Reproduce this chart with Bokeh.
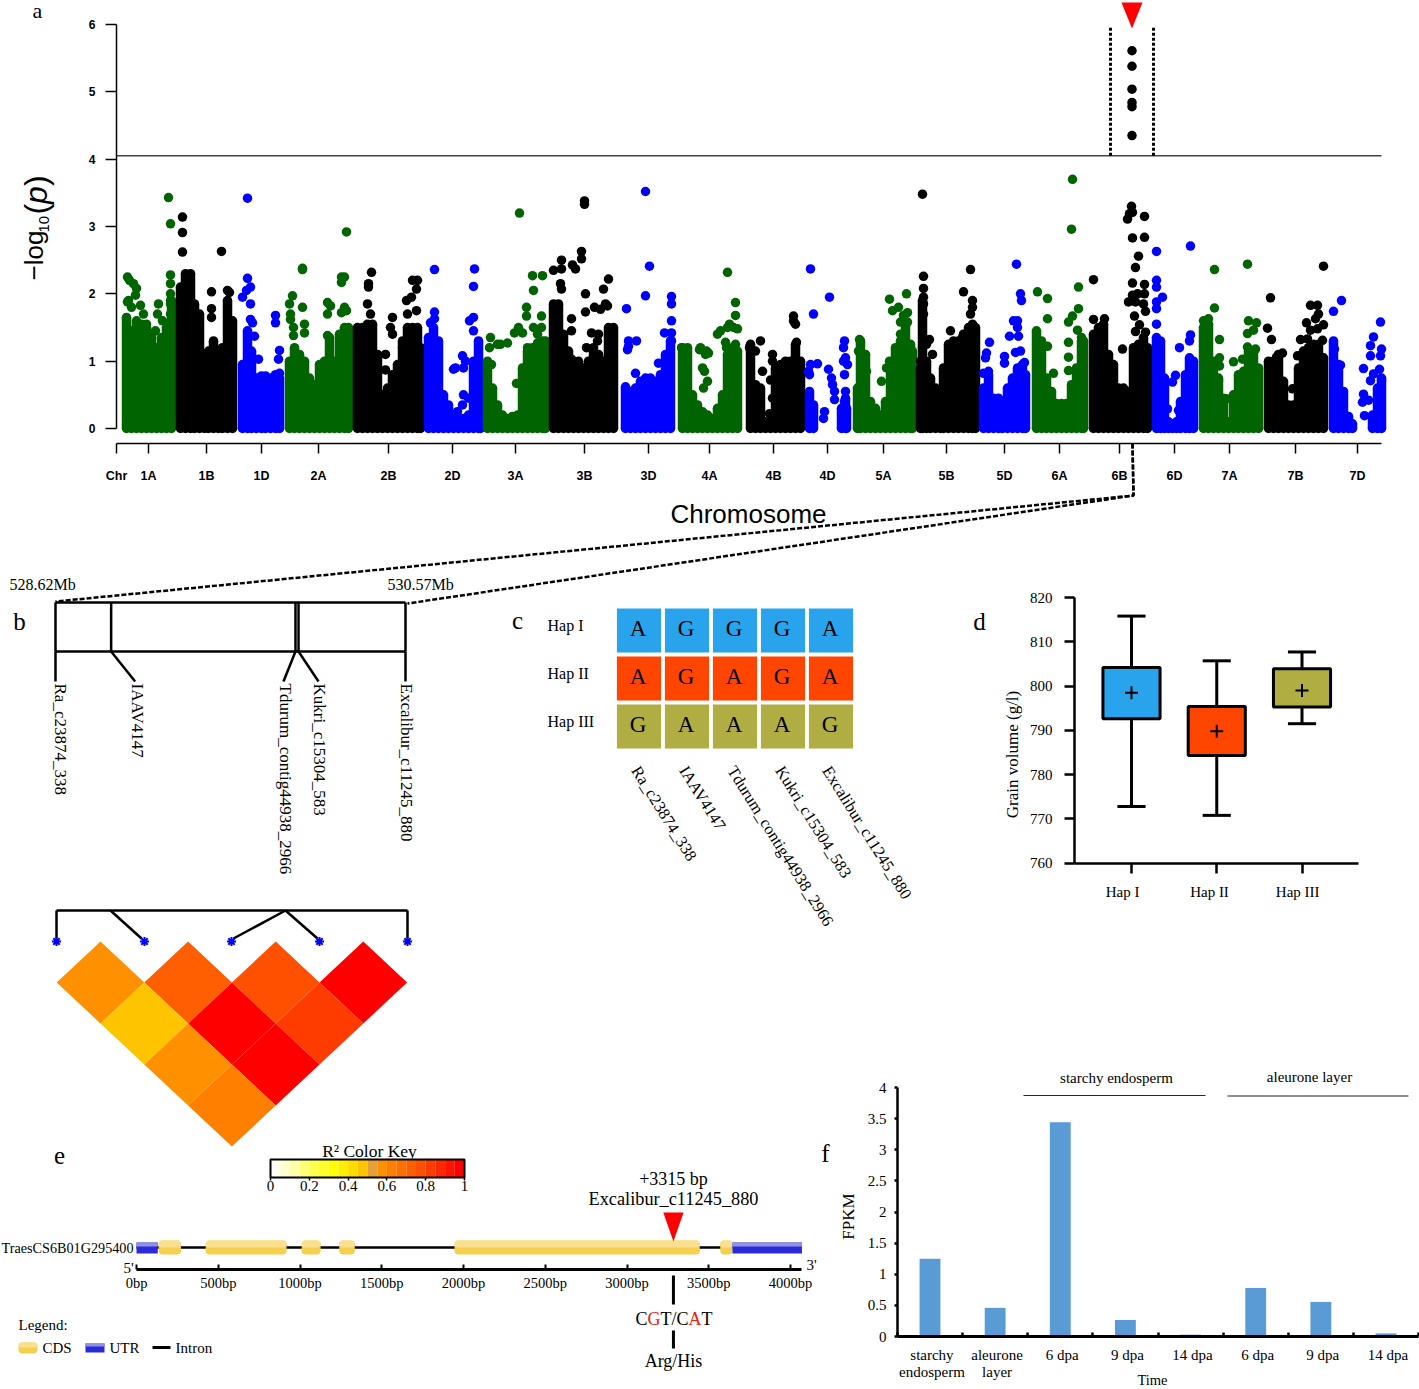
from math import pi
from bokeh.plotting import figure
from bokeh.models import Range1d, LinearAxis, FixedTicker
from bokeh.core.properties import value
from bokeh.embed import file_html
from bokeh.resources import INLINE

W, H = 1419, 1389
SERIF = "Liberation Serif"
SANS = "Liberation Sans"

# ---------- panel a: Manhattan (position, -log10 p) ----------
chr_names = ["Chr","1A","1B","1D","2A","2B","2D","3A","3B","3D","4A","4B","4D","5A","5B","5D","6A","6B","6D","7A","7B","7D"]
chr_ticks = [116,148,206,261,318,388,452,515,584,648,709,773,827,883,946,1004,1059,1119,1174,1229,1295,1357]

chr1A_cols = [(126,1.65),(131,1.45),(136,1.6),(141,1.55),(146,1.5),(151,1.4),(156,1.2),(161,1.35),(166,1.5),(171,1.9)]
chr1A_pts = [(127,2.25),(129,2.2),(133,2.15),(136,2.08),(135,1.98),(127,1.88),(128,1.9),(131,1.8),(140,1.83),(143,1.7),(146,1.55),(155,1.45),(158,1.85),(157,1.7),(162,1.6),(170,2.28),(170,2.15),(170,2.0),(170,1.9),(170,1.85),(170,1.7),(168,3.43),(170,3.04)]
chr1B_cols = [(180,2.1),(185,2.3),(190,2.3),(194,1.85),(199,1.7),(204,1.1),(208,1.15),(213,1.3),(218,0.95),(222,1.2),(227,1.9),(232,1.6)]
chr1B_pts = [(182,2.62),(182,2.91),(182,3.14),(221,2.63),(211,2.03),(211,1.78),(211,1.65),(227,2.05),(229,2.02)]
chr1D_cols = [(242,0.95),(247,1.45),(251,1.15),(256,0.75),(261,0.78),(265,0.78),(270,0.75),(275,0.8),(279,0.75)]
chr1D_pts = [(247,3.42),(247,2.23),(250,2.1),(242,1.95),(246,2.05),(250,1.85),(250,1.62),(252,1.57),(254,1.37),(258,1.03),(275,1.68),(275,1.57),(279,1.16),(278,1.03),(279,0.82)]
chr2A_cols = [(289,1.0),(294,1.2),(299,1.1),(304,1.0),(309,0.75),(314,0.65),(319,0.95),(324,1.0),(329,1.35),(334,1.0),(339,1.4),(344,1.5),(348,1.5)]
chr2A_pts = [(292,1.97),(289,1.85),(290,1.7),(290,1.62),(293,1.5),(293,1.38),(302,2.38),(302,2.36),(302,1.8),(304,1.55),(304,1.42),(346,2.92),(341,2.25),(344,2.25),(341,2.17),(327,1.87),(330,1.82),(327,1.7),(341,1.72),(344,1.8),(346,1.75),(327,1.38)]
chr2B_cols = [(357,1.5),(362,1.5),(367,1.55),(372,1.55),(377,1.1),(382,0.5),(387,0.6),(392,0.8),(397,0.95),(402,1.3),(407,1.5),(412,1.5),(417,1.5),(420,1.2)]
chr2B_pts = [(371,2.32),(368,2.15),(368,2.1),(367,1.85),(370,1.7),(392,1.65),(390,1.5),(392,1.4),(385,1.1),(385,0.87),(392,0.72),(412,2.2),(417,2.2),(416,2.07),(411,1.95),(406,1.9),(416,1.75),(407,1.7),(402,1.2)]
chr2D_cols = [(428,1.35),(433,1.5),(438,1.3),(443,0.5),(448,0.35),(453,0.15),(458,0.15),(463,0.15),(468,0.2),(473,1.0),(478,1.3),(480,0.6)]
chr2D_pts = [(434,2.36),(474,2.37),(473,2.11),(434,1.73),(434,1.63),(430,1.57),(473,1.65),(469,1.6),(473,1.45),(462,1.08),(455,0.9),(453,0.88),(463,0.9),(465,1.0),(440,0.45),(446,0.3),(463,0.5),(457,0.25),(462,0.35),(468,0.45)]
chr3A_cols = [(487,1.0),(492,0.6),(497,0.35),(502,0.2),(507,0.15),(512,0.18),(517,0.2),(522,0.9),(527,1.15),(532,1.2),(537,1.27),(542,1.3),(545,1.3)]
chr3A_pts = [(490,1.35),(489,1.2),(497,1.25),(500,1.25),(507,1.27),(514,1.42),(516,0.67),(522,1.42),(518,1.5),(519,3.2),(532,2.27),(542,2.27),(533,2.05),(526,1.8),(526,1.67),(541,1.67),(533,1.5),(541,1.5),(537,1.4),(541,1.25),(527,1.2),(491,0.95)]
chr3B_cols = [(553,1.85),(558,1.85),(563,1.4),(568,1.15),(573,1.0),(578,1.0),(583,0.9),(588,1.0),(593,1.2),(598,1.1),(603,1.0),(608,1.5),(613,1.5)]
chr3B_pts = [(584,3.38),(584,3.33),(581,2.63),(581,2.52),(561,2.5),(553,2.35),(561,2.37),(572,2.43),(575,2.37),(608,2.22),(603,2.07),(560,2.15),(561,2.07),(585,2.0),(585,1.73),(594,1.8),(600,1.77),(605,1.85),(607,1.82),(571,1.63),(571,1.45),(591,1.42),(598,1.4),(597,1.3),(586,1.2),(571,1.03)]
chr3D_cols = [(625,0.62),(630,0.55),(635,0.6),(640,0.7),(645,0.75),(650,0.75),(655,0.7),(660,0.8),(665,1.1),(670,1.3)]
chr3D_pts = [(645,3.52),(649,2.41),(645,1.97),(626,1.78),(628,1.3),(628,1.22),(636,1.3),(627,1.17),(635,0.82),(671,1.96),(671,1.85),(671,1.6),(664,1.42),(671,1.42),(671,1.3),(658,0.97),(665,0.85)]
chr4A_cols = [(682,1.2),(687,1.2),(692,0.5),(697,0.35),(702,0.25),(707,0.2),(712,0.15),(717,0.3),(722,0.5),(727,1.1),(732,1.2),(737,1.15)]
chr4A_pts = [(681,1.2),(699,1.17),(706,1.15),(708,1.12),(702,0.9),(704,0.85),(707,0.7),(703,0.6),(727,2.32),(735,1.87),(735,1.68),(727,1.5),(729,1.55),(733,1.5),(717,1.4),(725,1.28),(720,1.45),(737,1.48),(726,1.2),(735,1.25),(705,1.1),(700,1.2)]
chr4B_cols = [(750,1.25),(755,0.65),(760,0.6),(765,0.1),(770,0.1),(775,0.9),(780,0.95),(785,1.0),(790,1.0),(795,1.25),(800,1.0)]
chr4B_pts = [(760,1.3),(755,1.15),(749,1.2),(793,1.67),(793,1.6),(795,1.55),(796,1.28),(772,1.1),(772,1.0),(762,0.85),(770,0.72),(772,0.45),(769,0.22),(780,0.75)]
chr4D_cols = [(809,0.55),(813,0.35),(841,0.3),(845,0.45),(846,0.3)]
chr4D_pts = [(810,2.37),(813,1.7),(829,1.95),(810,0.95),(817,0.96),(808,0.85),(809,0.8),(828,0.88),(831,0.75),(832,0.65),(834,0.55),(844,1.3),(843,1.2),(845,1.05),(847,0.95),(844,0.8),(843,1.0),(845,0.55),(834,0.43),(844,0.4),(824,0.25),(823,0.15),(842,0.3)]
chr5A_cols = [(857,0.6),(860,1.3),(865,1.1),(870,0.4),(875,0.3),(880,0.2),(885,0.4),(890,0.85),(895,1.2),(900,1.3),(905,1.55),(910,1.25),(912,1.15)]
chr5A_pts = [(859,1.32),(858,1.15),(866,0.85),(881,0.7),(886,0.9),(889,1.0),(889,1.92),(906,2.0),(892,1.75),(898,1.8),(907,1.72),(903,1.68),(907,1.58),(900,1.58),(900,1.4)]
chr5B_cols = [(920,0.9),(922,1.9),(926,1.0),(930,0.75),(935,0.6),(940,0.55),(943,0.9),(948,1.25),(953,1.3),(958,1.25),(963,1.4),(968,1.5),(972,1.55),(975,1.5)]
chr5B_pts = [(922,3.48),(923,2.26),(923,2.08),(923,1.95),(923,1.85),(923,1.7),(929,1.32),(932,1.1),(926,1.25),(922,1.2),(920,1.0),(963,2.03),(970,2.36),(972,1.9),(972,1.8),(970,1.7),(950,1.45),(962,1.35),(958,1.3)]
chr5D_cols = [(983,0.6),(988,0.8),(993,0.45),(998,0.45),(1002,0.4),(1007,0.6),(1012,0.75),(1017,0.9),(1022,0.95),(1025,0.8)]
chr5D_pts = [(989,1.28),(986,1.12),(985,1.05),(1004,1.07),(1004,0.97),(983,0.82),(988,0.85),(1016,2.44),(1020,2.0),(1021,1.9),(1013,1.6),(1017,1.6),(1017,1.5),(1009,1.37),(1018,1.37),(1015,1.13),(1020,1.15),(1024,0.98)]
chr6A_cols = [(1036,1.45),(1041,1.3),(1046,0.75),(1051,0.55),(1056,0.37),(1061,0.37),(1066,0.37),(1071,0.65),(1076,0.9),(1081,1.3),(1083,1.3)]
chr6A_pts = [(1037,2.03),(1047,1.93),(1072,3.7),(1071,2.96),(1078,2.1),(1047,1.63),(1053,0.82),(1078,1.78),(1072,1.67),(1068,1.58),(1077,1.46),(1068,1.28),(1081,1.35),(1047,1.22),(1068,1.06),(1068,0.86)]
chr6B_cols = [(1093,1.4),(1098,1.5),(1103,1.55),(1108,1.1),(1113,0.95),(1118,0.6),(1123,0.6),(1128,0.55),(1133,1.2),(1138,1.25),(1143,1.35),(1147,1.2)]
chr6B_pts = [(1131.5,5.61),(1131.5,5.38),(1131.5,5.04),(1131.5,4.84),(1131.5,4.78),(1131.5,4.35),(1131,3.3),(1129,3.19),(1127,3.11),(1132,3.21),(1144,3.15),(1132,2.83),(1144,2.84),(1138,2.56),(1135,2.39),(1093,2.21),(1132,2.16),(1144,2.14),(1132,1.98),(1137,2.0),(1144,2.0),(1128,1.88),(1135,1.88),(1145,1.74),(1134,1.67),(1093,1.62),(1104,1.63),(1139,1.54),(1135,1.44),(1145,1.43),(1122,1.18),(1143,1.85)]
chr6D_cols = [(1156,1.35),(1160,1.3),(1164,0.75),(1168,0.1),(1172,0.03),(1176,0.1),(1180,0.4),(1185,0.8),(1189,1.05),(1193,1.0)]
chr6D_pts = [(1156,2.63),(1190,2.71),(1156,2.2),(1156,2.1),(1162,1.95),(1156,1.88),(1156,1.78),(1156,1.55),(1190,1.39),(1189,1.3),(1179,1.2),(1175,0.79),(1172,0.69),(1167,0.29),(1178,0.27),(1173,0.07)]
chr7A_cols = [(1203,1.5),(1208,1.55),(1213,1.0),(1218,0.75),(1223,0.45),(1228,0.1),(1233,0.5),(1238,0.8),(1243,0.85),(1248,1.15),(1253,1.15),(1258,0.9)]
chr7A_pts = [(1247,2.44),(1214,2.36),(1214,1.79),(1203,1.6),(1208,1.63),(1219,1.32),(1219,1.05),(1219,0.93),(1218,0.71),(1248,1.6),(1256,1.57),(1253,1.46),(1247,1.41),(1247,1.21),(1255,1.18),(1233,0.99),(1242,1.03),(1226,0.44)]
chr7B_cols = [(1268,1.0),(1273,1.0),(1278,1.1),(1283,0.7),(1288,0.35),(1293,0.35),(1298,0.9),(1303,1.15),(1308,1.2),(1313,1.25),(1318,1.25),(1323,1.05)]
chr7B_pts = [(1323,2.41),(1270,1.94),(1267,1.49),(1271,1.32),(1310,1.83),(1317,1.83),(1318,1.7),(1315,1.63),(1323,1.54),(1306,1.57),(1310,1.46),(1317,1.48),(1300,1.32),(1307,1.33),(1322,1.31),(1282,1.12),(1276,1.06),(1292,0.59),(1297,1.08)]
chr7D_cols = [(1333,1.3),(1338,0.95),(1343,0.55),(1348,0.18),(1352,0.07),(1372,0.2),(1377,0.6),(1381,0.75)]
chr7D_pts = [(1341,1.9),(1333,1.74),(1380,1.58),(1373,1.36),(1370,1.23),(1381,1.18),(1370,1.08),(1380,1.08),(1379,0.88),(1370,0.71),(1363,0.51),(1368,0.42),(1381,0.71),(1373,0.81),(1334,1.18),(1340,0.94),(1364,0.19),(1363,0.89),(1362,0.39)]

manhattan = [
    (chr1A_cols,chr1A_pts),(chr1B_cols,chr1B_pts),(chr1D_cols,chr1D_pts),
    (chr2A_cols,chr2A_pts),(chr2B_cols,chr2B_pts),(chr2D_cols,chr2D_pts),
    (chr3A_cols,chr3A_pts),(chr3B_cols,chr3B_pts),(chr3D_cols,chr3D_pts),
    (chr4A_cols,chr4A_pts),(chr4B_cols,chr4B_pts),(chr4D_cols,chr4D_pts),
    (chr5A_cols,chr5A_pts),(chr5B_cols,chr5B_pts),(chr5D_cols,chr5D_pts),
    (chr6A_cols,chr6A_pts),(chr6B_cols,chr6B_pts),(chr6D_cols,chr6D_pts),
    (chr7A_cols,chr7A_pts),(chr7B_cols,chr7B_pts),(chr7D_cols,chr7D_pts)]
chr_colors = ["#006400","#000000","#0000FF"]
threshold = 4.05
qtl_pos = 1131.5

# ---------- panel b ----------
marker_names = ["Ra_c23874_338","IAAV4147","Tdurum_contig44938_2966","Kukri_c15304_583","Excalibur_c11245_880"]
marker_mb = [528.62,528.93,529.957,529.974,530.57]

# ---------- panel c ----------
hap_names = ["Hap I","Hap II","Hap III"]
hap_alleles = ["AGGGA","AGAGA","GAAAG"]
hap_colors = ["#29A3EB","#FF4500","#B0AD42"]

# ---------- panel d ----------
box_q3 = [804.2,795.4,803.9]
box_q1 = [792.6,784.3,795.3]
box_hi = [815.8,805.7,807.7]
box_lo = [772.8,770.8,791.5]
box_mean = [798.5,789.8,799.0]

# ---------- LD heat map ----------
ld_r2 = [[0.56,0.72,0.76,0.97],[0.47,0.97,0.82],[0.56,0.97],[0.62]]
key_palette = ["#FFFFF5","#FFFFD0","#FFFFA8","#FFFF78","#FFFF50","#FFFF28","#FFFF00","#FFEE00","#FFDC00","#FFC400",
               "#E5A03C","#FF9000","#FF8000","#FF7000","#FF5F00","#FF5000","#FF3C00","#FF2800","#FF1400","#FF0000"]
key_ticks = [0,0.2,0.4,0.6,0.8,1]

# ---------- panel e ----------
gene_cds = [(135,272),(423,918),(1010,1126),(1240,1335),(1945,3445),(3570,3645)]
gene_utr = [(0,130),(3645,4070)]
gene_ticks = [0,500,1000,1500,2000,2500,3000,3500,4000]
snp_bp = 3284

# ---------- panel f ----------
fpkm_labels = ["starchy\nendosperm","aleurone\nlayer","6 dpa","9 dpa","14 dpa","6 dpa","9 dpa","14 dpa"]
fpkm_values = [1.25,0.46,3.44,0.265,0.03,0.78,0.555,0.05]
fpkm_ticks = [0,0.5,1,1.5,2,2.5,3,3.5,4]


def xspan(v0, px0, v1, px1):
    k = (v1 - v0) / (px1 - px0)
    return Range1d(start=v0 - px0 * k, end=v0 + (W - px0) * k)

def yspan(v0, px0, v1, px1):
    k = (v1 - v0) / (px1 - px0)
    return Range1d(start=v0 + (H - px0) * k, end=v0 - px0 * k)

p = figure(width=W, height=H, x_range=Range1d(0, W), y_range=Range1d(H, 0),
           output_backend="svg", toolbar_location=None, min_border=0,
           x_axis_location=None, y_axis_location=None,
           background_fill_color="white", border_fill_color="white")
p.grid.visible = False
p.outline_line_color = None

p.extra_x_ranges = {
    "genome": xspan(116, 116, 1381, 1381),
    "mb": xspan(528.62, 55, 530.57, 405),
    "hap": xspan(0, 638.5, 4, 830.5),
    "hapbox": xspan(0, 1131, 2, 1301.5),
    "key": xspan(0, 270, 1, 464),
    "bp": xspan(0, 136, 4000, 790),
    "stage": xspan(0, 929.5, 7, 1385.5),
}
p.extra_y_ranges = {
    "logp": yspan(0, 428, 6, 24),
    "hapy": yspan(0, 630, 2, 726),
    "vol": yspan(760, 862.7, 820, 597),
    "fpkm": yspan(0, 1336, 4, 1087),
}


def txt(x, y, s, size, font=SERIF, align="center", base="middle", angle=0.0, color="#000000",
        style="normal", xr="default", yr="default"):
    xs = x if isinstance(x, list) else [x]
    ys = y if isinstance(y, list) else [y]
    ss = s if isinstance(s, list) else [s]
    return p.text(xs, ys, text=ss, text_font=value(font), text_font_size=f"{size}px",
                  text_align=align, text_baseline=base, angle=angle, text_color=color,
                  text_font_style=style, x_range_name=xr, y_range_name=yr)

def axis(place, xr, yr, loc, bounds, ticks, labels, size, font, tick_in=0, tick_out=0,
         standoff=5, lw=2, tw=2, style="normal"):
    a = LinearAxis(x_range_name=xr, y_range_name=yr, fixed_location=loc, bounds=bounds,
                   ticker=FixedTicker(ticks=ticks), major_label_overrides=labels,
                   major_tick_in=tick_in, major_tick_out=tick_out, minor_tick_in=0, minor_tick_out=0,
                   major_label_standoff=standoff, axis_line_width=lw, major_tick_line_width=tw,
                   major_label_text_font=font, major_label_text_font_size=f"{size}px",
                   major_label_text_font_style=style, major_label_text_color="#000000")
    p.add_layout(a, place)
    return a

# letters
txt(37,10,"a",22)
for lx, ly, ls in [(19,621,"b"),(517,620,"c"),(979,621,"d"),(59,1155,"e"),(825,1153,"f")]:
    txt(lx, ly, ls, 25)

# ---------- a ----------
for i, (cols, pts) in enumerate(manhattan):
    c = chr_colors[i % 3]
    xs = [q[0] for q in cols]
    ys = [q[1] for q in cols]
    p.segment(xs, [0]*len(xs), xs, ys, line_color=c, line_width=9.5,
              x_range_name="genome", y_range_name="logp")
    p.scatter(xs + xs + [q[0] for q in pts], ys + [0]*len(xs) + [q[1] for q in pts],
              size=9.5, color=c, line_color=None, x_range_name="genome", y_range_name="logp")

p.line([116,1381],[threshold,threshold], line_color="#444444", line_width=1.5,
       x_range_name="genome", y_range_name="logp")
for dx in (-21.5, 21.5):
    p.line([qtl_pos+dx]*2,[threshold,5.95], line_color="black", line_width=3, line_dash="3 2",
           x_range_name="genome", y_range_name="logp")
p.patch([qtl_pos-10.5,qtl_pos+10.5,qtl_pos],[2,2,28], color="#FF0000", line_color=None)

axis("left","genome","logp",116,(0,6),[0,1,2,3,4,5,6],{i:str(i) for i in range(7)},12,SANS,
     tick_out=11,standoff=10,lw=1.5,tw=1.5,style="bold")
axis("below","genome","logp",(428-443)/67.33,(116,1381),chr_ticks,dict(zip(chr_ticks,chr_names)),12.5,SANS,
     tick_out=10,standoff=15,lw=1.5,tw=1.5,style="bold")
txt(748,513,"Chromosome",26,SANS)
txt(33,280,"\u2212log",26,SANS,align="left",angle=pi/2)
txt(43,232,"10",15,SANS,align="left",angle=pi/2)
txt(35,214,"(",32,SANS,align="left",angle=pi/2)
txt(35,203.4,"p",32,SANS,align="left",angle=pi/2,style="italic")
txt(35,185.6,")",32,SANS,align="left",angle=pi/2)

# connector
for xe, ye in [(55,601),(407,603)]:
    p.line([1132,1133,xe],[443,495,ye], line_color="black", line_width=2.5, line_dash="5 2")

# ---------- b ----------
txt(9,584,"528.62Mb",16,align="left")
txt(387,584,"530.57Mb",16,align="left")
p.line([528.62,530.57],[602,602],line_color="black",line_width=2.5,x_range_name="mb")
p.line([528.62,530.57],[651,651],line_color="black",line_width=2.5,x_range_name="mb")
for m in marker_mb:
    p.line([m,m],[602,651],line_color="black",line_width=2.5,x_range_name="mb")
lab_off = [0,24,-12,20,0]
lab_x = [60,137,285,319,406]
for m, off, lx, name in zip(marker_mb, lab_off, lab_x, marker_names):
    p.line([m, m+off*1.95/350],[651,681],line_color="black",line_width=2.5,x_range_name="mb")
    txt(lx,683,name,17,align="left",angle=-pi/2)

# ---------- c ----------
for r, (name, seq, col) in enumerate(zip(hap_names, hap_alleles, hap_colors)):
    txt(547,625+48*r,name,16,align="left")
    p.rect(list(range(5)),[r]*5,width=0.92,height=0.92,fill_color=col,line_color=None,
           x_range_name="hap",y_range_name="hapy")
    txt([i-0.02 for i in range(5)],[r-0.05]*5,list(seq),23,xr="hap",yr="hapy")
for j, name in enumerate(marker_names):
    x0 = [635,683,731,779,826][j]
    txt(x0,767,name,16.5,align="left",angle=-58*pi/180)

# ---------- d ----------
hap_x = [0,1,2]
p.segment(hap_x,box_lo,hap_x,box_hi,line_color="black",line_width=3,x_range_name="hapbox",y_range_name="vol")
for v in (box_lo, box_hi):
    p.segment([x-0.165 for x in hap_x],v,[x+0.165 for x in hap_x],v,line_color="black",line_width=3,
              x_range_name="hapbox",y_range_name="vol")
p.quad(left=[x-0.335 for x in hap_x],right=[x+0.335 for x in hap_x],bottom=box_q1,top=box_q3,
       fill_color=hap_colors,line_color="black",line_width=3,x_range_name="hapbox",y_range_name="vol")
p.scatter(hap_x,box_mean,marker="cross",size=13,line_color="black",line_width=2,
          x_range_name="hapbox",y_range_name="vol")
vol_ticks=[760,770,780,790,800,810,820]
axis("left","hapbox","vol",(1074-1131)/85.25,(760,820),vol_ticks,{v:str(v) for v in vol_ticks},15,SERIF,
     tick_out=10,standoff=12,lw=2.5,tw=2.5)
axis("below","hapbox","vol",760,(-57/85.25,227/85.25),hap_x,{i:"" for i in hap_x},1,SERIF,tick_out=10,standoff=0,lw=2.5,tw=2.5)
txt([x+d for x, d in zip(hap_x,(-0.105,-0.085,-0.05))],[891]*3,hap_names,15,xr="hapbox")
txt(1012,754,"Grain volume (g/l)",17,angle=pi/2)

# ---------- LD ----------
p.line([56,407],[910,910],line_color="black",line_width=2.5)
for x1,x2 in [(56,56),(110,141),(285,233),(285,317),(407,407)]:
    p.line([x1,x2],[910,938],line_color="black",line_width=2.5)
p.scatter([56,144,231,319,407],[941]*5,marker="asterisk",size=9,line_color="#0000FF",line_width=2)
hw, hh = 43.8, 41
for r, row in enumerate(ld_r2):
    for c_i, v in enumerate(row):
        cx = 100 + 87.6*c_i + hw*r
        cy = 982 + hh*r
        p.patch([cx-hw,cx,cx+hw,cx],[cy,cy-hh,cy,cy+hh],
                fill_color=key_palette[min(int(v*20),19)],line_color=None)

txt(369,1150,"R\u00b2 Color Key",17.5)
n=len(key_palette)
p.quad(left=[i/n for i in range(n)],right=[(i+1)/n for i in range(n)],top=[1159]*n,bottom=[1177]*n,
       fill_color=key_palette,line_color=None,x_range_name="key")
p.quad(left=[0],right=[1],top=[1159],bottom=[1177],fill_color=None,line_color="black",line_width=2,x_range_name="key")
axis("below","key","default",1177,(0,1),key_ticks,{0:"0",0.2:"0.2",0.4:"0.4",0.6:"0.6",0.8:"0.8",1:"1"},15,SERIF,
     tick_out=3,standoff=0,lw=1,tw=1.5)

# ---------- e ----------
p.line([0,3645],[1247,1247],line_color="black",line_width=2.5,x_range_name="bp")
p.quad(left=[s[0] for s in gene_cds],right=[s[1] for s in gene_cds],top=[1240]*6,bottom=[1254]*6,
       fill_color="#F5CF50",line_color=None,border_radius=4,x_range_name="bp")
p.quad(left=[s[0] for s in gene_cds],right=[s[1] for s in gene_cds],top=[1240]*6,bottom=[1247]*6,
       fill_color="#FAE08E",line_color=None,border_radius=4,x_range_name="bp")
p.quad(left=[s[0] for s in gene_utr],right=[s[1] for s in gene_utr],top=[1242]*2,bottom=[1253]*2,
       fill_color="#2A2AD8",line_color=None,x_range_name="bp")
p.quad(left=[s[0] for s in gene_utr],right=[s[1] for s in gene_utr],top=[1242]*2,bottom=[1246]*2,
       fill_color="#9090E4",line_color=None,x_range_name="bp")
axis("below","bp","default",1269,(0,4070),gene_ticks,{g:f"{g}bp" for g in gene_ticks},14.5,SERIF,
     tick_in=5,standoff=5,lw=3,tw=2)
txt(133,1247,"TraesCS6B01G295400",14.2,align="right")
txt(123,1267,"5'",15,align="left")
txt(806,1264,"3'",15,align="left")
txt(673,1178,"+3315 bp",18)
txt(673,1198,"Excalibur_c11245_880",18.3)
p.patch([snp_bp-62,snp_bp+62,snp_bp],[1212,1212,1241],color="#FF0000",line_color=None,x_range_name="bp")
p.line([snp_bp]*2,[1275,1304],line_color="black",line_width=3,x_range_name="bp")
p.line([snp_bp]*2,[1330,1348],line_color="black",line_width=3,x_range_name="bp")
for px, s, col in [(635,"C","#000000"),(647,"G","#E8200C"),(660,"T/C","#000000"),(688,"A","#E8200C"),(701,"T","#000000")]:
    txt(px,1318,s,18,align="left",color=col)
txt(673,1360,"Arg/His",18)
txt(18,1324,"Legend:",15,align="left")
p.quad(left=[18],right=[37],top=[1342],bottom=[1353],fill_color="#F5CF50",line_color=None,border_radius=4)
p.quad(left=[18],right=[37],top=[1342],bottom=[1347],fill_color="#FAE08E",line_color=None,border_radius=3)
p.quad(left=[85],right=[104],top=[1343],bottom=[1352],fill_color="#2A2AD8",line_color=None)
p.quad(left=[85],right=[104],top=[1343],bottom=[1346],fill_color="#9090E4",line_color=None)
p.line([152,170],[1347,1347],line_color="black",line_width=3)
for lx, ls in [(42,"CDS"),(109,"UTR"),(175,"Intron")]:
    txt(lx,1347,ls,15,align="left")

# ---------- f ----------
stage_x = list(range(8))
p.vbar(x=stage_x,top=fpkm_values,bottom=0,width=0.32,fill_color="#5B9BD5",line_color=None,
       x_range_name="stage",y_range_name="fpkm")
axis("left","stage","fpkm",-0.5,(0,4),fpkm_ticks,{t:(str(int(t)) if t==int(t) else str(t)) for t in fpkm_ticks},15,SERIF,
     tick_out=3,standoff=8,lw=2.5,tw=2.5)
bounds=[i-0.5 for i in range(9)]
axis("below","stage","fpkm",0,(-0.5,7.5),bounds,{b:"" for b in bounds},1,SERIF,tick_in=4,standoff=0,lw=3,tw=2.5)
for i in (0,1):
    first, second = fpkm_labels[i].split("\n")
    txt(i+0.03,1354,first,15,xr="stage")
    txt(i+0.03,1371,second,15,xr="stage")
txt([x+0.03 for x in stage_x[2:]],[1354]*6,fpkm_labels[2:],15,xr="stage")
txt(1152,1379,"Time",14.5)
txt(848,1216,"FPKM",17,angle=pi/2)
txt(1116,1077,"starchy endosperm",15)
txt(1309,1076,"aleurone layer",15)
p.line([1023,1205],[1095,1095],line_color="#202060",line_width=1.2)
p.line([1227,1408],[1095.5,1095.5],line_color="#222222",line_width=1.2)

open("out.html", "w").write(file_html(p, INLINE))
